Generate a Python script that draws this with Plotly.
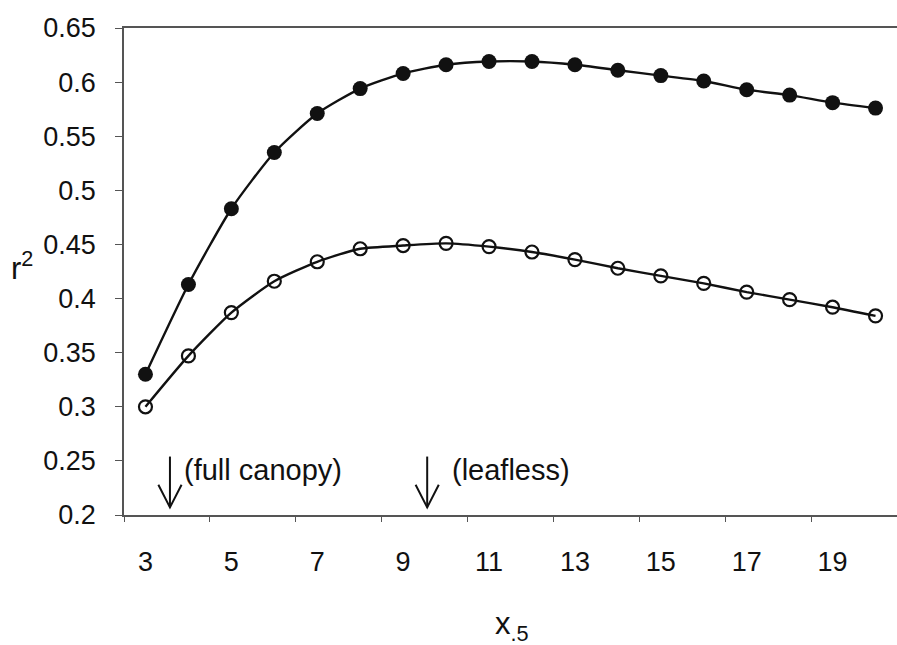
import plotly.graph_objects as go

# Window size (x.5) values on the horizontal axis
window = list(range(3, 21))

# r^2 for the two series
r2_filled = [0.330, 0.413, 0.483, 0.535, 0.571, 0.594, 0.608, 0.616, 0.619, 0.619,
             0.616, 0.611, 0.606, 0.601, 0.593, 0.588, 0.581, 0.576]
r2_open = [0.300, 0.347, 0.387, 0.416, 0.434, 0.446, 0.449, 0.451, 0.448, 0.443,
           0.436, 0.428, 0.421, 0.414, 0.406, 0.399, 0.392, 0.384]

# Tick labels shown on the axes
x_tick_vals = [3, 5, 7, 9, 11, 13, 15, 17, 19]
y_tick_vals = [0.2, 0.25, 0.3, 0.35, 0.4, 0.45, 0.5, 0.55, 0.6, 0.65]

# Marker annotations: (label, arrow x position, text start x position)
arrow_notes = [("(full canopy)", 3.57, 3.84), ("(leafless)", 9.56, 10.08)]

FONT = "Liberation Sans, Arial, sans-serif"
INK = "#111111"
AXIS = "#555555"

fig = go.Figure()

fig.add_trace(go.Scatter(
    x=window, y=r2_open, mode="lines+markers",
    line=dict(color=INK, width=2.4, shape="spline", smoothing=0.6),
    marker=dict(symbol="circle-open", size=13, color=INK, line=dict(width=2.2, color=INK)),
    showlegend=False,
))
fig.add_trace(go.Scatter(
    x=window, y=r2_filled, mode="lines+markers",
    line=dict(color=INK, width=2.4, shape="spline", smoothing=0.6),
    marker=dict(symbol="circle", size=15, color=INK),
    showlegend=False,
))

# Downward arrows with open V heads, plus their text labels
shapes = []
annotations = []
for label, xa, xt in arrow_notes:
    y_top, y_tip = 0.254, 0.207
    head_dx, head_dy = 0.27, 0.021
    shapes.append(dict(type="line", xref="x", yref="y", x0=xa, x1=xa, y0=y_top, y1=y_tip,
                       line=dict(color=INK, width=2)))
    shapes.append(dict(type="path", xref="x", yref="y",
                       path=f"M {xa - head_dx} {y_tip + head_dy} L {xa} {y_tip} L {xa + head_dx} {y_tip + head_dy}",
                       line=dict(color=INK, width=2)))
    annotations.append(dict(x=xt, y=0.2415, xref="x", yref="y", text=label,
                            showarrow=False, xanchor="left", yanchor="middle",
                            font=dict(family=FONT, size=29, color=INK)))

# Axis titles
annotations.append(dict(x=-102 / 773, y=(515 - 266) / 487, xref="paper", yref="paper",
                        text="r<sup>2</sup>", showarrow=False, xanchor="center", yanchor="middle",
                        font=dict(family=FONT, size=31, color=INK)))
annotations.append(dict(x=(512 - 124) / 773, y=-(626 - 515) / 487, xref="paper", yref="paper",
                        text="x<sub>.5</sub>", showarrow=False, xanchor="center", yanchor="middle",
                        font=dict(family=FONT, size=31, color=INK)))

fig.update_layout(
    width=897, height=645,
    margin=dict(l=124, r=0, t=28, b=130),
    paper_bgcolor="white", plot_bgcolor="white",
    font=dict(family=FONT, size=27, color=INK),
    shapes=shapes, annotations=annotations,
    xaxis=dict(
        range=[2.5, 20.5], tickmode="array", tickvals=x_tick_vals,
        ticks="", showgrid=False, zeroline=False,
        showline=True, linecolor=AXIS, linewidth=1.5, mirror=True,
        ticklabelstandoff=22,
        tickfont=dict(family=FONT, size=27, color=INK),
        minor=dict(ticks="outside", tick0=2.5, dtick=2, ticklen=5, tickcolor=AXIS, tickwidth=1, showgrid=False),
    ),
    yaxis=dict(
        range=[0.2, 0.65], tickmode="array", tickvals=y_tick_vals,
        ticktext=[f"{v:g}" for v in y_tick_vals],
        ticks="outside", ticklen=7, tickcolor=AXIS, tickwidth=1,
        showgrid=False, zeroline=False,
        showline=True, linecolor=AXIS, linewidth=1.5,
        ticklabelstandoff=14,
        tickfont=dict(family=FONT, size=27, color=INK),
    ),
)

fig.write_html("out.html")
